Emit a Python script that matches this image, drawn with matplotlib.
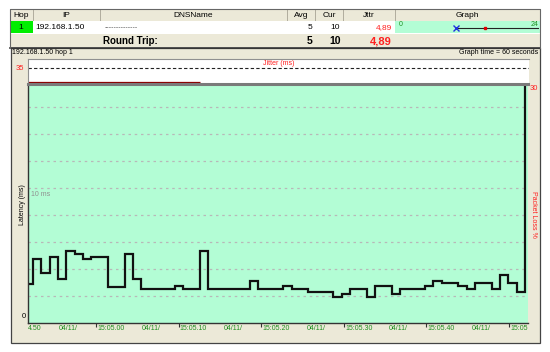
import numpy as np
import matplotlib.pyplot as plt
from matplotlib.patches import Rectangle
from matplotlib.transforms import Bbox, blended_transform_factory

plt.rcParams['font.family'] = ['Liberation Sans', 'DejaVu Sans']

W, H = 550, 352
BEIGE = '#ece9d8'
MINT = '#b3fdd5'
EDGE = '#aca899'
GREEN_TXT = '#1f8f1f'
RED = '#ff2020'

# table row
columns = ['Hop', 'IP', 'DNSName', 'Avg', 'Cur', 'Jttr', 'Graph']
hop = '1'
ip = '192.168.1.50'
dns_name = '--------------'
avg_ms = 5
cur_ms = 10
jitter_txt = '4,89'
mini_scale = [0, 24]
mini_cur = 10
mini_mark = 15

# latency per ping (ms), one ping per second
latency = [2.89, 4.74, 3.68, 4.89, 3.28, 5.33, 5.13, 4.72, 4.89, 4.89,
           2.69, 2.69, 5.13, 3.28, 2.49, 2.49, 2.49, 2.49, 2.71, 2.49,
           2.49, 5.31, 2.49, 2.49, 2.49, 2.49, 2.49, 3.14, 2.49, 2.49,
           2.49, 2.74, 2.49, 2.49, 2.32, 2.32, 2.32, 1.95, 2.12, 2.49,
           2.49, 1.95, 2.74, 2.74, 2.12, 2.49, 2.49, 2.49, 2.74, 3.14,
           2.94, 2.94, 2.74, 2.49, 2.94, 2.94, 2.49, 3.56, 2.94, 2.32,
           30.0]
jitter_ms = [2.0] * 21
time_labels = ['15:05.00', '15:05.10', '15:05.20', '15:05.30', '15:05.40', '15:05.50']
date_label = '04/11/'
first_label = '4.50'


def px_rect(x0, y0, x1, y1):  # pixel box -> figure fraction
    return [x0 / W, 1 - y1 / H, (x1 - x0) / W, (y1 - y0) / H]


fig = plt.figure(figsize=(W / 100, H / 100), dpi=100, facecolor='white')

# background canvas in pixel coords
bg = fig.add_axes([0, 0, 1, 1])
bg.set_xlim(0, W)
bg.set_ylim(H, 0)
bg.axis('off')

def box(x0, y0, x1, y1, fc, ec='none', lw=0.6):
    bg.add_patch(Rectangle((x0, y0), x1 - x0, y1 - y0, facecolor=fc, edgecolor=ec, lw=lw))

# header
col_x = [10, 33, 100, 287, 315, 343, 395, 540]
for i, name in enumerate(columns):
    box(col_x[i], 9, col_x[i + 1], 21, BEIGE, EDGE)
    bg.text((col_x[i] + col_x[i + 1]) / 2, 15.5, name, ha='center', va='center', fontsize=6)

# row 1
box(10, 21, 540, 34, 'white')
box(10, 21, 33, 33, '#00ee00')
bg.text(21, 27.5, hop, ha='center', va='center', fontsize=6)
bg.text(35, 27.5, ip, ha='left', va='center', fontsize=6)
bg.text(105, 27.5, dns_name, ha='left', va='center', fontsize=5, color='#555555')
bg.text(312, 27.5, str(avg_ms), ha='right', va='center', fontsize=6)
bg.text(340, 27.5, str(cur_ms), ha='right', va='center', fontsize=6)
bg.text(392, 27.5, jitter_txt, ha='right', va='center', fontsize=6, color=RED)
box(395, 21, 540, 33, MINT)
bg.text(399, 25, str(mini_scale[0]), ha='left', va='center', fontsize=5, color=GREEN_TXT)
bg.text(538, 25, str(mini_scale[1]), ha='right', va='center', fontsize=5, color=GREEN_TXT)

mini = fig.add_axes(px_rect(398, 22, 539, 33))
mini.set_xlim(mini_scale[0], mini_scale[1] * 141 / 139)
mini.set_ylim(0, 1)
mini.axis('off')
mini.plot([mini_cur, mini_scale[1] * 2], [0.45, 0.45], color='#222222', lw=0.8)
mini.plot([mini_cur], [0.45], marker='x', color='#2030e0', ms=4, mew=1)
mini.plot([mini_mark], [0.45], marker='s', color='#e00000', ms=2)

# round trip row
box(10, 34, 540, 47, BEIGE)
bg.text(130, 41, 'Round Trip:', ha='center', va='center', fontsize=7, fontweight='bold')
bg.text(312, 41, str(avg_ms), ha='right', va='center', fontsize=7.5, fontweight='bold')
bg.text(341, 41, str(cur_ms), ha='right', va='center', fontsize=7.5, fontweight='bold')
bg.text(392, 41, jitter_txt, ha='right', va='center', fontsize=8, fontweight='bold', color=RED)
bg.plot([10, 540], [47.5, 47.5], color='#333333', lw=1.2)
bg.plot([10, 10, 540, 540], [47.5, 9, 9, 47.5], color='#666666', lw=0.8)

# graph panel
box(11, 48, 540, 343, BEIGE, '#444444', 0.9)
bg.text(12, 53, '192.168.1.50 hop 1', ha='left', va='center', fontsize=5)
bg.text(538, 53, 'Graph time = 60 seconds', ha='right', va='center', fontsize=5)

# jitter strip
jx = fig.add_axes(px_rect(28, 59, 529, 83))
jx.set_facecolor('white')
jx.set_xlim(0, 500 / 8.26)
jx.set_ylim(0, 56)
jx.set_xticks([])
jx.set_yticks([])
for s in ['top', 'left']:
    jx.spines[s].set_color('#909090')
    jx.spines[s].set_linewidth(0.8)
jx.spines['right'].set_visible(False)
jx.spines['bottom'].set_visible(False)
jx.axhline(35, color='#222222', lw=0.8, ls=(0, (3, 2)))
edges = np.concatenate([[0], 0.605 + 1.0096 * np.arange(len(latency))])
jx.stairs(jitter_ms, edges[:len(jitter_ms) + 1], color='#8b0000', lw=0.9, baseline=None)
jx.text(0.5, 0.82, 'Jitter (ms)', transform=jx.transAxes, ha='center', va='center', fontsize=5, color=RED)
bg.text(24, 68, '35', ha='right', va='center', fontsize=5.5, color=RED)

# latency plot
ax = fig.add_axes(px_rect(28, 84, 528, 323))
ax.set_facecolor(MINT)
ax.set_xlim(0, 500 / 8.26)
ax.set_ylim(0, 239 / 13.5)
ax.set_yticks(np.arange(2, 17, 2))
ax.tick_params(axis='y', length=0, labelleft=False)
ax.grid(axis='y', color='#b8b8b8', lw=0.9, ls=(0, (2, 3)))
ax.set_axisbelow(True)
ax.spines['top'].set_color('#7a7a7a')
ax.spines['top'].set_linewidth(2.2)
ax.spines['right'].set_visible(False)
for s in ['left', 'bottom']:
    ax.spines[s].set_color('#333333')
    ax.spines[s].set_linewidth(1)
ax.stairs(latency, edges, color='#111111', lw=1.6, baseline=None)

tick_times = 8.23 + 10 * np.arange(len(time_labels))
ax.set_xticks(tick_times)
ax.tick_params(axis='x', length=3, width=0.8, color='#333333', labelbottom=False)

tr = blended_transform_factory(ax.transData, bg.transData)
bg.text(28, 328, first_label, ha='left', va='center', fontsize=5, color=GREEN_TXT)
clip = Bbox.from_extents(0, 0, 528, H)
for t, lab in zip(tick_times, time_labels):
    bg.text(t - 4.5, 328, date_label, transform=tr, ha='left', va='center', fontsize=5, color=GREEN_TXT)
    txt = bg.text(t + 0.15, 328, lab, transform=tr, ha='left', va='center', fontsize=5, color=GREEN_TXT)
    txt.set_clip_box(clip)
    txt.set_clip_on(True)

ax.text(0.35, 9.8, '10 ms', ha='left', va='top', fontsize=5, color='#909090')
bg.text(26, 317, '0', ha='right', va='center', fontsize=5.5)
bg.text(22, 205, 'Latency (ms)', ha='center', va='center', rotation=90, fontsize=5)
bg.text(530, 88, '30', ha='left', va='center', fontsize=5.5, color=RED)
bg.text(534, 214, 'Packet Loss %', ha='center', va='center', rotation=270, fontsize=5, color=RED)

fig.savefig('out.png', dpi=100, facecolor='white')
